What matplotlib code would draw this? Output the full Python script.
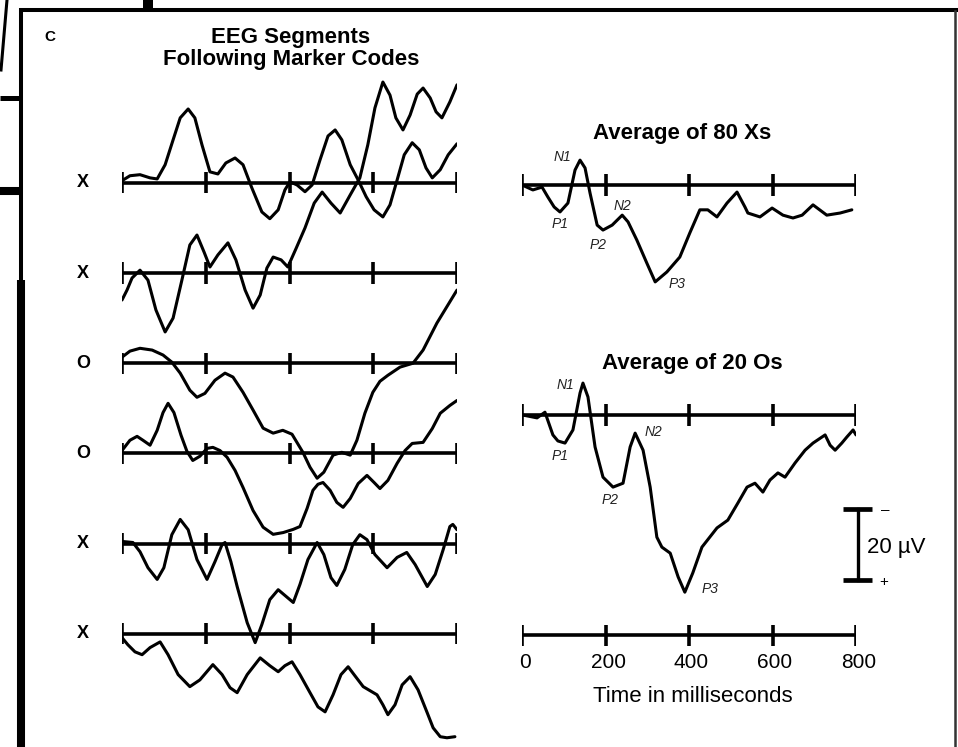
import matplotlib.pyplot as plt

plt.rcParams['font.family'] = ['Liberation Sans', 'DejaVu Sans']

# time axis (ms) and row labels
tick_ms = [0, 200, 400, 600, 800]
row_labels = ['X', 'X', 'O', 'O', 'X', 'X']

# single EEG segments, time in ms, amplitude in uV (positive drawn downward)
seg1_t = [0, 19, 43, 67, 84, 103, 122, 139, 158, 174, 191, 210, 229, 248, 270, 289, 310, 334, 353, 373, 389, 401,
          418, 437, 454, 473, 492, 509, 525, 545, 564, 583, 602, 623, 640, 657, 674, 693, 710, 726, 741, 760, 779, 800]
seg1_v = [-0.6, -2.0, -2.3, -1.4, -1.1, -5.1, -12.1, -18.3, -20.8, -18.3, -10.7, -3.1, -2.5, -5.6, -7.0, -5.1, 1.4,
          8.2, 10.1, 7.6, 2.0, -0.3, 0.6, 2.5, 0.6, -6.5, -13.2, -14.9, -12.1, -5.1, -0.8, 3.9, 7.6, 9.6, 6.2, -0.8,
          -7.9, -11.3, -9.3, -4.2, -1.4, -3.7, -7.9, -11.0]

seg2_t = [0, 12, 24, 43, 62, 81, 103, 122, 143, 162, 179, 196, 210, 229, 253, 272, 294, 313, 330, 346, 361, 380, 396,
          416, 437, 459, 478, 499, 521, 545, 568, 587, 604, 623, 640, 654, 671, 688, 705, 719, 736, 750, 764, 783, 800]
seg2_v = [7.6, 4.8, 1.4, -0.8, 2.0, 10.4, 16.6, 12.7, 2.0, -7.9, -10.7, -5.9, -1.7, -5.1, -8.5, -3.7, 4.8, 9.9, 6.2,
          -1.4, -4.5, -3.7, -1.7, -7.0, -12.7, -19.7, -22.8, -19.7, -16.9, -22.0, -26.8, -36.1, -46.5, -53.8, -50.1,
          -43.7, -40.3, -44.5, -50.4, -52.1, -49.3, -45.4, -43.7, -48.2, -53.0]

seg3_t = [0, 19, 43, 72, 98, 119, 139, 162, 179, 198, 222, 246, 265, 289, 313, 337, 361, 384, 406, 432, 449, 466,
          482, 504, 525, 545, 561, 580, 599, 616, 635, 664, 695, 719, 752, 800]
seg3_v = [-1.7, -3.4, -4.2, -3.7, -2.3, -0.3, 2.8, 7.6, 9.6, 8.5, 4.8, 2.8, 3.9, 8.2, 13.2, 18.3, 19.7, 18.9, 20.0,
          25.1, 29.3, 32.4, 30.7, 25.9, 25.1, 25.9, 21.7, 14.1, 8.2, 5.1, 3.4, 1.1, 0.0, -3.7, -11.3, -20.6]

seg4_t = [0, 19, 36, 50, 67, 84, 98, 110, 124, 141, 155, 169, 186, 203, 217, 234, 251, 270, 289, 313, 337, 361, 385,
          409, 425, 442, 456, 468, 480, 497, 513, 528, 545, 564, 585, 602, 616, 635, 657, 676, 693, 719, 741, 760,
          783, 800]
seg4_v = [-0.8, -3.7, -4.8, -3.7, -2.3, -6.5, -11.5, -14.1, -11.5, -5.1, -0.6, 2.0, 0.8, -1.4, -1.7, -0.8, 1.1, 4.8,
          9.6, 16.1, 20.8, 22.8, 22.3, 21.4, 20.6, 15.5, 10.4, 8.7, 8.2, 10.4, 13.8, 15.2, 12.7, 8.5, 6.2, 8.2, 9.9,
          7.6, 2.8, -0.8, -2.8, -3.1, -7.0, -11.3, -13.5, -14.9]

seg5_t = [0, 26, 43, 62, 84, 100, 119, 139, 158, 179, 203, 222, 239, 246, 260, 275, 299, 318, 334, 353, 373, 392,
          409, 425, 444, 466, 482, 499, 513, 532, 551, 568, 585, 604, 633, 657, 680, 700, 729, 748, 767, 783, 790, 800]
seg5_v = [-0.6, -0.3, 2.3, 6.8, 10.1, 6.8, -2.5, -6.8, -3.9, 4.5, 10.1, 5.1, 0.3, -0.3, 5.1, 12.1, 22.3, 27.9, 22.8,
          15.8, 13.0, 14.9, 16.6, 11.5, 4.5, -0.3, 3.1, 9.6, 11.8, 7.3, 0.3, -2.5, -1.1, 3.1, 6.8, 3.9, 2.5, 5.9, 12.1,
          8.7, 1.7, -4.8, -5.4, -3.9]

seg6_t = [0, 14, 31, 48, 67, 91, 110, 134, 162, 186, 217, 239, 258, 275, 299, 330, 353, 373, 389, 406, 425, 449, 468,
          485, 504, 523, 540, 556, 576, 609, 623, 635, 652, 669, 688, 707, 729, 743, 760, 776, 795]
seg6_v = [1.1, 3.1, 5.1, 5.9, 3.9, 2.3, 5.9, 11.5, 14.9, 13.0, 8.7, 11.5, 15.2, 16.6, 11.5, 6.8, 9.0, 10.7, 9.0, 7.9,
          11.5, 16.6, 20.6, 22.0, 17.2, 11.5, 9.3, 11.8, 14.9, 17.2, 20.0, 22.8, 20.0, 14.4, 12.1, 15.8, 22.3, 26.5,
          29.0, 29.3, 29.0]

# averaged ERPs
avg_x_t = [0, 26, 48, 62, 77, 91, 110, 127, 139, 151, 163, 180, 194, 216, 240, 254, 275, 299, 319, 347, 378, 402,
           426, 445, 467, 491, 515, 534, 541, 570, 599, 625, 649, 671, 697, 730, 762, 790]
avg_x_v = [0, 1.4, 0.6, 3.4, 6.2, 7.6, 5.1, -4.2, -7.0, -4.8, 2.3, 11.3, 12.7, 11.3, 8.5, 10.4, 15.5, 22.0, 27.3,
           24.5, 20.3, 13.5, 7.0, 7.0, 9.0, 5.1, 2.0, 6.2, 7.9, 9.0, 6.5, 8.5, 9.3, 8.5, 5.6, 8.5, 7.9, 7.0]

avg_o_t = [2, 36, 55, 74, 86, 103, 122, 139, 146, 158, 175, 194, 218, 242, 259, 271, 290, 307, 323, 335, 355, 374,
           390, 409, 431, 467, 493, 517, 539, 558, 577, 594, 613, 630, 654, 678, 697, 726, 738, 750, 766, 778, 793, 800]
avg_o_v = [0, 0.8, -0.8, 5.6, 7.3, 7.9, 4.2, -6.2, -9.0, -5.1, 9.0, 17.5, 20.3, 19.2, 9.0, 5.1, 9.9, 20.3, 34.4,
           37.2, 38.9, 45.6, 49.9, 44.5, 37.2, 31.8, 29.6, 24.8, 20.3, 19.2, 21.7, 18.3, 16.3, 17.5, 13.5, 9.9, 7.9,
           5.6, 8.5, 9.9, 7.9, 6.2, 4.2, 5.6]

peak_names = ['N1', 'P1', 'P2', 'N2', 'P3']
peak_x_t = [96, 91, 182, 240, 371]
peak_x_v = [-7.9, 11.0, 16.9, 5.9, 27.9]
peak_o_t = [103, 91, 211, 314, 450]
peak_o_v = [-8.5, 11.5, 23.9, 4.8, 49.0]

segments = [(seg1_t, seg1_v), (seg2_t, seg2_v), (seg3_t, seg3_v),
            (seg4_t, seg4_v), (seg5_t, seg5_v), (seg6_t, seg6_v)]

W, H = 958, 747
fig = plt.figure(figsize=(W / 100, H / 100), dpi=100)

# scan edges of the printed figure
bg = fig.add_axes([0, 0, 1, 1])
bg.set_xlim(0, W)
bg.set_ylim(H, 0)
bg.axis('off')
bg.plot([20, W], [9.5, 9.5], color='k', lw=2.9, solid_capstyle='butt')
bg.plot([148, 148], [0, 8], color='k', lw=7.2, solid_capstyle='butt')
bg.plot([21, 21], [8, 280], color='k', lw=2.9, solid_capstyle='butt')
bg.plot([21, 21], [280, H], color='k', lw=5.8, solid_capstyle='butt')
bg.plot([0, 20], [98, 98], color='k', lw=3.6, solid_capstyle='butt')
bg.plot([0, 20], [191, 191], color='k', lw=5.8, solid_capstyle='butt')
bg.plot([7, 1], [0, 70], color='k', lw=2.2)
bg.plot([955, 955], [11, H], color='#333333', lw=1.8)

base_lw = 2.6
trace_lw = 2.2
tick_h = 3.0
row_gap = 25.4

# left: single segments
ax_l = fig.add_axes([122 / W, 0, 335 / W, 687 / H])
ax_l.set_xlim(0, 800)
ax_l.set_ylim(158.9, -34.6)
ax_l.axis('off')
for i, (lab, (t, v)) in enumerate(zip(row_labels, segments)):
    off = i * row_gap
    ax_l.plot([0, 800], [off, off], color='k', lw=base_lw, solid_capstyle='butt')
    ax_l.vlines(tick_ms, off - tick_h, off + tick_h, color='k', lw=base_lw)
    ax_l.plot(t, [off + a for a in v], color='k', lw=trace_lw,
              solid_joinstyle='round', solid_capstyle='round')
    ax_l.text(-93, off, lab, ha='center', va='center', fontsize=13,
              fontweight='bold', clip_on=False)

# right: averages
ax_r = fig.add_axes([522 / W, 0, 334 / W, 687 / H])
ax_r.set_xlim(0, 800)
ax_r.set_ylim(158.3, -35.2)
ax_r.axis('off')
avg_off = [0, 64.8]
time_off = 126.8
avgs = [(avg_x_t, avg_x_v, peak_x_t, peak_x_v, 'Average of 80 Xs', 384),
        (avg_o_t, avg_o_v, peak_o_t, peak_o_v, 'Average of 20 Os', 408)]
for off, (t, v, pt, pv, title, tx) in zip(avg_off, avgs):
    ax_r.plot([0, 800], [off, off], color='k', lw=base_lw, solid_capstyle='butt')
    ax_r.vlines(tick_ms, off - tick_h, off + tick_h, color='k', lw=base_lw)
    ax_r.plot(t, [off + a for a in v], color='k', lw=trace_lw,
              solid_joinstyle='round', solid_capstyle='round')
    for name, a, b in zip(peak_names, pt, pv):
        ax_r.text(a, off + b, name, ha='center', va='center', fontsize=10,
                  style='italic', color='#222222')
    ax_r.text(tx, off - 14.4, title, ha='center', va='center', fontsize=16,
              fontweight='bold')

# time axis
ax_r.plot([0, 800], [time_off, time_off], color='k', lw=base_lw, solid_capstyle='butt')
ax_r.vlines(tick_ms, time_off - tick_h, time_off + tick_h, color='k', lw=base_lw)
for t in tick_ms:
    ax_r.text(t + 6, time_off + 7.6, str(t), ha='center', va='center', fontsize=15)
ax_r.text(408, 144.2, 'Time in milliseconds', ha='center', va='center', fontsize=16)

# calibration bar
ax_r.plot([805, 805], [91.3, 111.3], color='k', lw=2.4, clip_on=False)
ax_r.plot([769, 838], [91.3, 91.3], color='k', lw=3.4, clip_on=False, solid_capstyle='butt')
ax_r.plot([769, 838], [111.3, 111.3], color='k', lw=3.4, clip_on=False, solid_capstyle='butt')
ax_r.text(869, 91.5, '\u2013', ha='center', va='center', fontsize=11, clip_on=False)
ax_r.text(867, 111.8, '+', ha='center', va='center', fontsize=11, clip_on=False)
ax_r.text(826, 102, '20 \u00b5V', ha='left', va='center', fontsize=16, clip_on=False)

fig.text(50 / W, 1 - 37 / H, 'C', ha='center', va='center', fontsize=11, fontweight='bold')
fig.text(291 / W, 1 - 38 / H, 'EEG Segments', ha='center', va='center', fontsize=16, fontweight='bold')
fig.text(291 / W, 1 - 59 / H, 'Following Marker Codes', ha='center', va='center', fontsize=16,
         fontweight='bold')

fig.savefig('out.png', dpi=100)
